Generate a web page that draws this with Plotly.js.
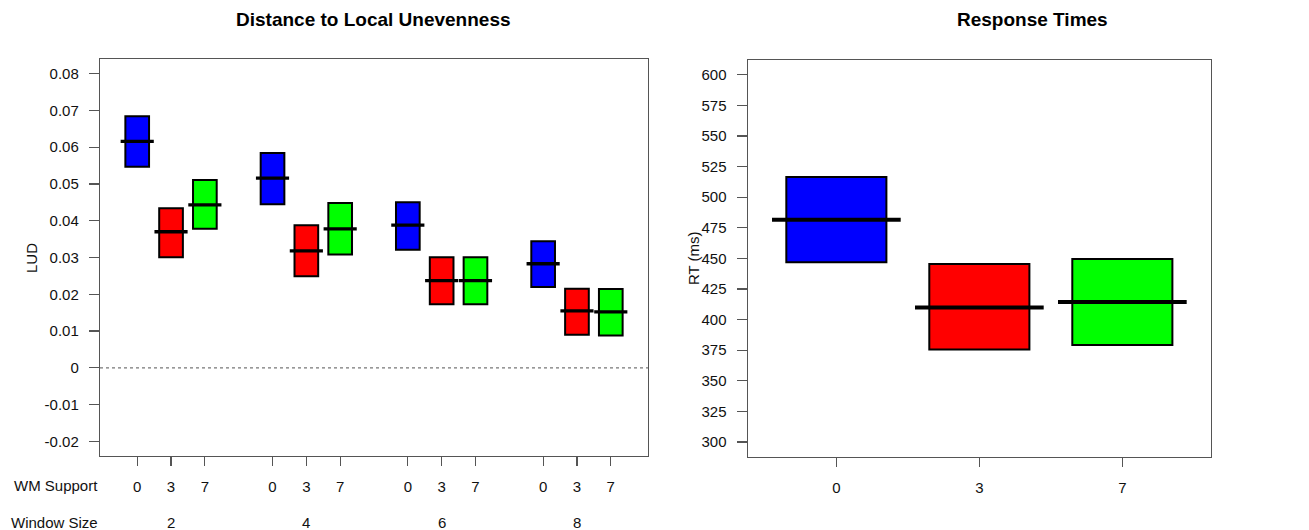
<!DOCTYPE html>
<html>
<head>
<meta charset="utf-8">
<script src="https://cdn.plot.ly/plotly-3.0.1.min.js"></script>
<style>html,body{margin:0;padding:0;background:#fff;}#chart{width:1309px;height:530px;}</style>
</head>
<body>
<div id="chart"></div>
<script>
// ---- data ----
var wmSupport = ["0", "3", "7"];
var windowSize = ["2", "4", "6", "8"];
var supportColors = ["#0000FF", "#FF0000", "#00FF00"];

// LUD: per window size group, per WM support level (0,3,7)
var ludUpper = [0.0684, 0.0434, 0.0511, 0.0584, 0.0388, 0.0448, 0.0450, 0.0301, 0.0301, 0.0344, 0.0215, 0.0214];
var ludLower = [0.0547, 0.0301, 0.0378, 0.0445, 0.0249, 0.0308, 0.0321, 0.0173, 0.0173, 0.0220, 0.0090, 0.0088];
var ludMean  = [0.0616, 0.0370, 0.0443, 0.0516, 0.0318, 0.0378, 0.0388, 0.0237, 0.0237, 0.0283, 0.0155, 0.0152];

// Response times per WM support level
var rtUpper = [516.4, 445.3, 449.4];
var rtLower = [446.9, 375.5, 379.3];
var rtMean  = [481.5, 409.8, 414.4];

var ludTickVals = [-0.02, -0.01, 0, 0.01, 0.02, 0.03, 0.04, 0.05, 0.06, 0.07, 0.08];
var ludTickText = ["-0.02", "-0.01", "0", "0.01", "0.02", "0.03", "0.04", "0.05", "0.06", "0.07", "0.08"];
var rtTickVals = [300, 325, 350, 375, 400, 425, 450, 475, 500, 525, 550, 575, 600];

// ---- build ----
var FONT = "Liberation Sans, Arial, sans-serif";
var W = 1309, H = 530;
var nS = wmSupport.length;

var lx = [], lc = [], lbase = [], lh = [], ltickText = [];
var mlx = [], mly = [];
var halfL = 0.49;
for (var g = 0; g < windowSize.length; g++) {
  for (var s = 0; s < nS; s++) {
    var i = g * nS + s;
    var p = g * (nS + 1) + s + 1;
    lx.push(p);
    lc.push(supportColors[s]);
    lbase.push(ludLower[i]);
    lh.push(ludUpper[i] - ludLower[i]);
    ltickText.push(wmSupport[s]);
    mlx.push(p - halfL, p + halfL, null);
    mly.push(ludMean[i], ludMean[i], null);
  }
}

var rx = [], rbase = [], rh = [], mrx = [], mry = [];
var halfR = 0.45;
for (var s = 0; s < nS; s++) {
  var p = s + 1;
  rx.push(p);
  rbase.push(rtLower[s]);
  rh.push(rtUpper[s] - rtLower[s]);
  mrx.push(p - halfR, p + halfR, null);
  mry.push(rtMean[s], rtMean[s], null);
}

var traces = [
  {type: "bar", x: lx, y: lh, base: lbase, width: 0.7, xaxis: "x", yaxis: "y",
   marker: {color: lc, line: {color: "#000", width: 2}}, hoverinfo: "skip", showlegend: false},
  {type: "scatter", mode: "lines", x: mlx, y: mly, xaxis: "x", yaxis: "y",
   line: {color: "#000", width: 3.3}, hoverinfo: "skip", showlegend: false, connectgaps: false},
  {type: "bar", x: rx, y: rh, base: rbase, width: 0.7, xaxis: "x2", yaxis: "y2",
   marker: {color: supportColors, line: {color: "#000", width: 2}}, hoverinfo: "skip", showlegend: false},
  {type: "scatter", mode: "lines", x: mrx, y: mry, xaxis: "x2", yaxis: "y2",
   line: {color: "#000", width: 4}, hoverinfo: "skip", showlegend: false, connectgaps: false}
];

var axisCommon = {
  showline: true, mirror: true, linecolor: "#555", linewidth: 1.2,
  ticks: "outside", tickcolor: "#555", tickwidth: 1.2,
  showgrid: false, zeroline: false, fixedrange: true,
  tickfont: {family: FONT, size: 15, color: "#111"}
};
function ax(extra) { var o = {}; for (var k in axisCommon) o[k] = axisCommon[k]; for (var k2 in extra) o[k2] = extra[k2]; return o; }

var groupCenters = [];
for (var g = 0; g < windowSize.length; g++) groupCenters.push(g * (nS + 1) + 2);

var annotations = [
  {text: "<b>Distance to Local Unevenness</b>", xref: "paper", yref: "paper", x: 373 / W, y: 1 - 20 / H,
   xanchor: "center", yanchor: "middle", showarrow: false, font: {family: FONT, size: 19, color: "#000"}},
  {text: "<b>Response Times</b>", xref: "paper", yref: "paper", x: 1032 / W, y: 1 - 20 / H,
   xanchor: "center", yanchor: "middle", showarrow: false, font: {family: FONT, size: 19, color: "#000"}},
  {text: "LUD", xref: "paper", yref: "paper", x: 31 / W, y: 1 - 258 / H, textangle: -90,
   xanchor: "center", yanchor: "middle", showarrow: false, font: {family: FONT, size: 15, color: "#111"}},
  {text: "RT (ms)", xref: "paper", yref: "paper", x: 693 / W, y: 1 - 258 / H, textangle: -90,
   xanchor: "center", yanchor: "middle", showarrow: false, font: {family: FONT, size: 15, color: "#111"}},
  {text: "WM Support", xref: "paper", yref: "paper", x: 100 / W, y: 1 - 485 / H,
   xanchor: "right", yanchor: "middle", showarrow: false, font: {family: FONT, size: 15, color: "#111"}},
  {text: "Window Size", xref: "paper", yref: "paper", x: 100 / W, y: 1 - 522 / H,
   xanchor: "right", yanchor: "middle", showarrow: false, font: {family: FONT, size: 15, color: "#111"}}
];
for (var g = 0; g < windowSize.length; g++) {
  annotations.push({text: windowSize[g], xref: "x", yref: "paper", x: groupCenters[g], y: 1 - 522 / H,
    xanchor: "center", yanchor: "middle", showarrow: false, font: {family: FONT, size: 15, color: "#111"}});
}

var layout = {
  width: W, height: H,
  margin: {l: 0, r: 0, t: 0, b: 0},
  paper_bgcolor: "#fff", plot_bgcolor: "#fff",
  barmode: "overlay",
  showlegend: false,
  font: {family: FONT, size: 15, color: "#111"},
  xaxis: ax({domain: [100 / W, 648 / W], range: [-0.1, 16.1], anchor: "y",
    tickmode: "array", tickvals: lx, ticktext: ltickText, ticklen: 9, ticklabelstandoff: 8}),
  yaxis: ax({domain: [1 - 456 / H, 1 - 59 / H], range: [-0.024, 0.084], anchor: "x",
    tickmode: "array", tickvals: ludTickVals, ticktext: ludTickText, ticklen: 10, ticklabelstandoff: 7}),
  xaxis2: ax({domain: [747.7 / W, 1211 / W], range: [0.38, 3.62], anchor: "y2",
    tickmode: "array", tickvals: rx, ticktext: wmSupport, ticklen: 9, ticklabelstandoff: 8}),
  yaxis2: ax({domain: [1 - 456.7 / H, 1 - 60 / H], range: [288, 612], anchor: "x2",
    tickmode: "array", tickvals: rtTickVals, ticktext: rtTickVals.map(String), ticklen: 10, ticklabelstandoff: 7}),
  shapes: [
    {type: "line", xref: "x domain", yref: "y", x0: 0, x1: 1, y0: 0, y1: 0,
     line: {color: "#777", width: 1.2, dash: "dot"}, layer: "below"}
  ],
  annotations: annotations
};

Plotly.newPlot("chart", traces, layout, {staticPlot: true, displayModeBar: false});
</script>
</body>
</html>
